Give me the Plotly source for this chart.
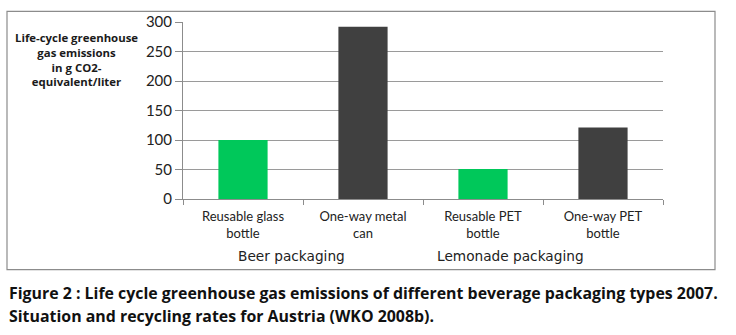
import plotly.graph_objects as go

categories = ["Reusable glass<br>bottle", "One-way metal<br>can", "Reusable PET<br>bottle", "One-way PET<br>bottle"]
values = [100, 292, 51, 121]
bar_colors = ["#00c85a", "#404040", "#00c85a", "#404040"]
groups = ["Beer packaging", "Lemonade packaging"]
y_ticks = [0, 50, 100, 150, 200, 250, 300]
y_title = "Life-cycle greenhouse<br>gas emissions<br>in g CO2-<br>equivalent/liter"
caption = ["Figure 2 : Life cycle greenhouse gas emissions of different beverage packaging types 2007.",
           "Situation and recycling rates for Austria (WKO 2008b)."]

W, H = 736, 335
L, R, T, B = 183, 663, 16, 199

def px(x):
    return (x - L) / (R - L)

def py(y):
    return (B - y) / (B - T)

fig = go.Figure()
fig.add_trace(go.Bar(x=categories, y=values, marker=dict(color=bar_colors, line=dict(width=0)),
                     hoverinfo="skip"))

fig.update_layout(
    width=W, height=H,
    margin=dict(l=L, r=W - R, t=T, b=H - B),
    paper_bgcolor="white", plot_bgcolor="white",
    bargap=0.59,
    showlegend=False,
    font=dict(family="Lato, sans-serif", color="#1a1a1a"),
)
fig.update_yaxes(range=[0, 300], tickvals=y_ticks, showgrid=True, gridcolor="#9a9a9a", gridwidth=1,
                 showline=True, linecolor="#8c8c8c", linewidth=1,
                 ticks="outside", ticklen=7, tickcolor="#8c8c8c",
                 tickfont=dict(family="Lato, sans-serif", size=15, color="#222222"),
                 zeroline=False, fixedrange=True)
fig.update_xaxes(showline=True, linecolor="#8c8c8c", linewidth=1, tickson="boundaries",
                 ticks="outside", ticklen=5, tickcolor="#8c8c8c", ticklabelstandoff=5,
                 tickfont=dict(family="Lato, sans-serif", size=13, color="#222222"),
                 fixedrange=True)

# outer frame
fig.add_shape(type="rect", xref="paper", yref="paper",
              x0=px(7), x1=px(715), y0=py(272), y1=py(5),
              line=dict(color="#8c8c8c", width=1.2), fillcolor="rgba(0,0,0,0)", layer="below")

# y-axis title
fig.add_annotation(xref="paper", yref="paper", x=px(76), y=py(55), text="<b>" + y_title + "</b>",
                   showarrow=False, align="center", xanchor="center", yanchor="middle",
                   font=dict(family="Open Sans, sans-serif", size=11.4, color="#1a1a1a"))

# group labels
for gx, g in zip([291, 510], groups):
    fig.add_annotation(xref="paper", yref="paper", x=px(gx), y=py(258), text=g,
                       showarrow=False, xanchor="center", yanchor="middle",
                       font=dict(family="DejaVu Sans, sans-serif", size=13.7, color="#222222"))

# caption
for cy, c in zip([296, 320], caption):
    fig.add_annotation(xref="paper", yref="paper", x=px(7), y=py(cy), text="<b>" + c + "</b>",
                       showarrow=False, xanchor="left", yanchor="middle",
                       font=dict(family="Open Sans, sans-serif", size=15.9, color="#111111"))

fig.write_html("out.html")
